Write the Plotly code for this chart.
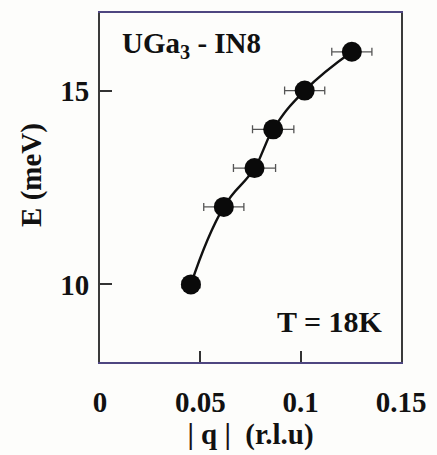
import plotly.graph_objects as go

# Magnon dispersion of UGa3 measured on IN8 at T = 18 K
q_rlu = [0.0453, 0.0617, 0.077, 0.0863, 0.102, 0.1255]
energy_mev = [10, 12, 13, 14, 15, 16]
q_err = [0.0045, 0.010, 0.0105, 0.0103, 0.010, 0.010]

x_ticks = [0, 0.05, 0.1, 0.15]
x_tick_text = ["0", "0.05", "0.1", "0.15"]
y_ticks = [10, 15]
y_tick_text = ["10", "15"]

FONT = "Liberation Serif"
frame_h = "#4e4680"
frame_v = "#3a3a3a"

fig = go.Figure()

# guide curve through the data
fig.add_trace(go.Scatter(
    x=q_rlu, y=energy_mev, mode="lines",
    line=dict(color="#111111", width=2.4, shape="spline", smoothing=1.3),
    hoverinfo="skip", showlegend=False,
))

# measured points with horizontal resolution bars
fig.add_trace(go.Scatter(
    x=q_rlu, y=energy_mev, mode="markers",
    marker=dict(color="#0a0a0a", size=20),
    error_x=dict(type="data", array=q_err, visible=True,
                 color="#555555", thickness=1.3, width=4),
    showlegend=False,
))

fig.add_annotation(
    x=0, y=1, xref="paper", yref="paper", xanchor="left", yanchor="top",
    xshift=20, yshift=-12,
    text="<b>UGa<sub>3</sub> - IN8</b>", showarrow=False,
    font=dict(family=FONT, size=29, color="#111111"),
)
fig.add_annotation(
    x=1, y=0, xref="paper", yref="paper", xanchor="right", yanchor="bottom",
    xshift=-16, yshift=22,
    text="<b>T = 18K</b>", showarrow=False,
    font=dict(family=FONT, size=30, color="#111111"),
)
# vertical axis title
fig.add_annotation(
    x=0, y=0.536, xref="paper", yref="paper", xanchor="center", yanchor="middle",
    xshift=-68, textangle=-90,
    text="<b>E (meV)</b>", showarrow=False,
    font=dict(family=FONT, size=29, color="#111111"),
)

fig.update_layout(
    width=437, height=455,
    margin=dict(l=100, r=35, t=11, b=86),
    paper_bgcolor="#fdfdfb", plot_bgcolor="#fdfdfb",
    font=dict(family=FONT, size=28, color="#111111"),
    xaxis=dict(
        range=[0, 0.15], tickvals=x_ticks, ticktext=x_tick_text,
        ticks="inside", ticklen=11, tickwidth=1.5, tickcolor="#333333",
        showline=True, mirror=True, linecolor=frame_h, linewidth=2,
        showgrid=False, zeroline=False, ticklabelstandoff=13,
        tickfont=dict(family=FONT, size=29, weight="bold"),
        title=dict(text="<b>| q |  (r.l.u)</b>", standoff=6,
                   font=dict(family=FONT, size=29)),
    ),
    yaxis=dict(
        range=[8, 17], tickvals=y_ticks, ticktext=y_tick_text,
        ticks="inside", ticklen=12, tickwidth=1.5, tickcolor="#333333",
        showline=True, mirror=True, linecolor=frame_v, linewidth=2,
        showgrid=False, zeroline=False, ticklabelstandoff=3,
        tickfont=dict(family=FONT, size=29, weight="bold"),
    ),
)

fig.write_html("out.html")
